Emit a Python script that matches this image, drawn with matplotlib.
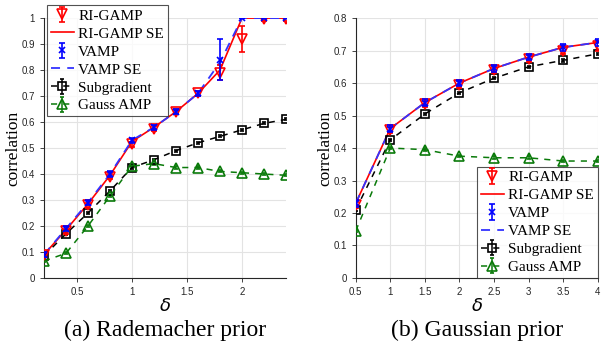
import matplotlib
matplotlib.use("Agg")
import matplotlib.pyplot as plt
import numpy as np

# (a) Rademacher prior
delta_a = [0.2, 0.4, 0.6, 0.8, 1.0, 1.2, 1.4, 1.6, 1.8, 2.0, 2.2, 2.4]
ri_a = [0.09, 0.18, 0.28, 0.39, 0.515, 0.575, 0.64, 0.71, 0.79, 0.92, 0.995, 0.995]
ri_a_err = [0.01, 0.01, 0.01, 0.01, 0.01, 0.01, 0.01, 0.01, 0.03, 0.05, 0.005, 0.005]
ri_se_a = [0.09, 0.185, 0.285, 0.395, 0.525, 0.58, 0.64, 0.71, 0.80, 1.0, 1.0, 1.0]
vamp_a = [0.09, 0.19, 0.29, 0.40, 0.53, 0.58, 0.64, 0.71, 0.84, 1.0, 1.0, 1.0]
vamp_a_err = [0.01, 0.01, 0.01, 0.01, 0.01, 0.01, 0.01, 0.01, 0.08, 0.0, 0.0, 0.0]
vamp_se_a = [0.09, 0.19, 0.29, 0.40, 0.53, 0.58, 0.64, 0.71, 0.83, 1.0, 1.0, 1.0]
sub_a = [0.085, 0.17, 0.25, 0.335, 0.425, 0.455, 0.49, 0.52, 0.545, 0.57, 0.595, 0.61]
gauss_a = [0.065, 0.095, 0.20, 0.315, 0.43, 0.44, 0.425, 0.425, 0.41, 0.405, 0.40, 0.395]

# (b) Gaussian prior
delta_b = [0.5, 1.0, 1.5, 2.0, 2.5, 3.0, 3.5, 4.0]
ri_b = [0.225, 0.455, 0.535, 0.595, 0.64, 0.675, 0.70, 0.715]
ri_b_err = [0.01, 0.01, 0.01, 0.01, 0.01, 0.01, 0.01, 0.015]
ri_se_b = [0.23, 0.46, 0.54, 0.60, 0.645, 0.68, 0.71, 0.725]
vamp_b = [0.23, 0.46, 0.54, 0.60, 0.645, 0.68, 0.71, 0.725]
vamp_b_err = [0.01, 0.01, 0.01, 0.01, 0.01, 0.01, 0.01, 0.01]
vamp_se_b = [0.23, 0.46, 0.54, 0.60, 0.645, 0.68, 0.71, 0.725]
sub_b = [0.21, 0.425, 0.505, 0.57, 0.615, 0.65, 0.67, 0.69]
gauss_b = [0.145, 0.40, 0.395, 0.375, 0.37, 0.37, 0.36, 0.36]

labels = ["RI-GAMP", "RI-GAMP SE", "VAMP", "VAMP SE", "Subgradient", "Gauss AMP"]

serif = ["Liberation Serif", "DejaVu Serif"]
sans = ["Liberation Sans", "DejaVu Sans"]
green = "#0a7a0a"

fig = plt.figure(figsize=(6.05, 3.55), dpi=100)
ax1 = fig.add_axes([0.0727, 0.217, 0.400, 0.732])
ax2 = fig.add_axes([0.588, 0.217, 0.400, 0.732])


def draw(ax, d, ri, ri_err, ri_se, vamp, vamp_err, vamp_se, sub, gauss):
    h1 = ax.errorbar(d, ri, yerr=ri_err, color="red", marker="v", mfc="none",
                     ms=7, mew=1.2, ls="none", capsize=2.5, elinewidth=1.2,
                     zorder=4)
    h2, = ax.plot(d, ri_se, color="red", lw=1.2, zorder=3)
    h3 = ax.errorbar(d, vamp, yerr=vamp_err, color="blue", marker="x", ms=4,
                     mew=1.2, ls="none", capsize=2.5, elinewidth=1.2, zorder=5)
    h4, = ax.plot(d, vamp_se, color="#3333ff", lw=1.3, ls=(0, (5, 4)), zorder=3)
    h5 = ax.errorbar(d, sub, yerr=0.004, color="black", marker="s", mfc="none",
                     ms=6, mew=1.2, ls=(0, (4, 4)), lw=1.1, capsize=1.5,
                     zorder=3)
    h6 = ax.errorbar(d, gauss, yerr=0.004, color=green, marker="^", mfc="none",
                     ms=7, mew=1.2, ls=(0, (4, 4)), lw=1.1, capsize=1.5,
                     zorder=3)
    ax.grid(True, color="#e3e3e3", lw=0.8)
    ax.set_axisbelow(True)
    for s in ["top", "right"]:
        ax.spines[s].set_visible(False)
    for s in ["left", "bottom"]:
        ax.spines[s].set_color("#262626")
        ax.spines[s].set_linewidth(0.8)
    ax.tick_params(labelsize=7, colors="#262626", length=3, width=0.6)
    ax.set_xlabel(r"$\delta$", fontsize=13, family=serif, labelpad=1)
    ax.set_ylabel("correlation", fontsize=12.5, family=serif)
    ax.yaxis.set_label_coords(-0.093, 0.5)
    return [h1, h2, h3, h4, h5, h6]


hs1 = draw(ax1, delta_a, ri_a, ri_a_err, ri_se_a, vamp_a, vamp_a_err, vamp_se_a,
           sub_a, gauss_a)
ax1.set_xlim(0.2, 2.4)
ax1.set_ylim(0, 1.0)
ax1.set_xticks([0.5, 1, 1.5, 2])
ax1.set_xticklabels(["0.5", "1", "1.5", "2"])
ax1.set_yticks(np.arange(0, 1.01, 0.1))
ax1.set_yticklabels(["0"] + ["%.1f" % v for v in np.arange(0.1, 0.95, 0.1)] + ["1"])

hs2 = draw(ax2, delta_b, ri_b, ri_b_err, ri_se_b, vamp_b, vamp_b_err, vamp_se_b,
           sub_b, gauss_b)
ax2.set_xlim(0.5, 4)
ax2.set_ylim(0, 0.8)
ax2.set_xticks(np.arange(0.5, 4.01, 0.5))
ax2.set_xticklabels(["0.5", "1", "1.5", "2", "2.5", "3", "3.5", "4"])
ax2.set_yticks(np.arange(0, 0.81, 0.1))
ax2.set_yticklabels(["0"] + ["%.1f" % v for v in np.arange(0.1, 0.85, 0.1)])

for ax in (ax1, ax2):
    for lab in ax.get_xticklabels() + ax.get_yticklabels():
        lab.set_family(sans)

leg_kw = dict(prop={"family": serif, "size": 11}, frameon=True,
              fancybox=False, edgecolor="#262626", handlelength=1.5,
              handletextpad=0.3, borderpad=0.25, labelspacing=0.28,
              borderaxespad=0)
l1 = ax1.legend(hs1, labels, loc="upper left", bbox_to_anchor=(0.012, 1.05),
                **leg_kw)
l2 = ax2.legend(hs2, labels, loc="lower right", bbox_to_anchor=(1.0, 0.0),
                **leg_kw)
for l in (l1, l2):
    l.get_frame().set_linewidth(0.8)

fig.text(0.2727, 0.07, "(a) Rademacher prior", ha="center", va="center",
         fontsize=17, family=serif)
fig.text(0.788, 0.07, "(b) Gaussian prior", ha="center", va="center",
         fontsize=17, family=serif)

fig.savefig("out.png", dpi=100)
